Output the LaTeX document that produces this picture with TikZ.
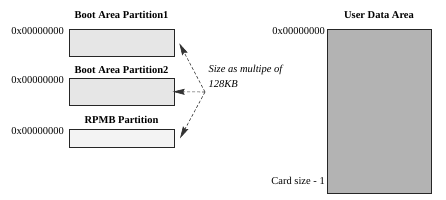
\documentclass[tikz,border=0pt]{standalone}
\usepackage{fontspec}
\setmainfont{Liberation Serif}
\usetikzlibrary{arrows.meta}
\definecolor{partfill}{HTML}{E6E6E6}
\definecolor{rpmbfill}{HTML}{F3F3F3}
\definecolor{userfill}{HTML}{B3B3B3}
\begin{document}
\begin{tikzpicture}[x=1pt,y=-1pt,
  every node/.style={font=\fontsize{10.5}{13}\selectfont, inner sep=0pt},
  part/.style={draw=black!85, line width=0.8pt, minimum width=105pt, anchor=north west},
  ttl/.style={font=\fontsize{10.5}{13}\selectfont\bfseries, anchor=base},
  addr/.style={anchor=base east},
  conn/.style={draw=black!80, line width=0.6pt, dash pattern=on 3pt off 2pt,
    -{Stealth[length=12pt,width=6pt,inset=1.5pt,sep=0pt]}}]
\useasboundingbox (0,0) rectangle (446,200);
% boxes
\node[part, fill=partfill, minimum height=27pt] (b1) at (69,29) {};
\node[part, fill=partfill, minimum height=27pt] (b2) at (69,78) {};
\node[part, fill=rpmbfill, minimum height=18pt] (b3) at (69,129) {};
\node[part, fill=userfill, minimum width=104pt, minimum height=164pt] (ud) at (327,29) {};
% titles
\node[ttl] (t1) at (121.5,19) {Boot Area Partition1};
\node[ttl] (t2) at (121.5,73.3) {Boot Area Partition2};
\node[ttl] (t3) at (121.5,124) {RPMB Partition};
\node[ttl] (t4) at (379,19) {User Data Area};
% addresses
\node[addr] (a1) at (64,35) {0x00000000};
\node[addr] (a2) at (64,83.3) {0x00000000};
\node[addr] (a3) at (64,135) {0x00000000};
\node[addr] (a4) at (325,35) {0x00000000};
\node[addr] (a5) at (325,184) {Card size - 1};
% note
\node[anchor=base west, align=left, font=\fontsize{10.5}{14.3}\selectfont\itshape] (note) at (208.3,87.3) {Size as multipe of\\128KB};
% connectors
\coordinate (j) at (205,92);
\coordinate (p1) at (179.3,43.3);
\coordinate (p2) at (172.7,91.7);
\coordinate (p3) at (180,138.3);
\draw[conn] (j) -- (p1);
\draw[conn] (j) -- (p2);
\draw[conn] (j) -- (p3);
\end{tikzpicture}
\end{document}
